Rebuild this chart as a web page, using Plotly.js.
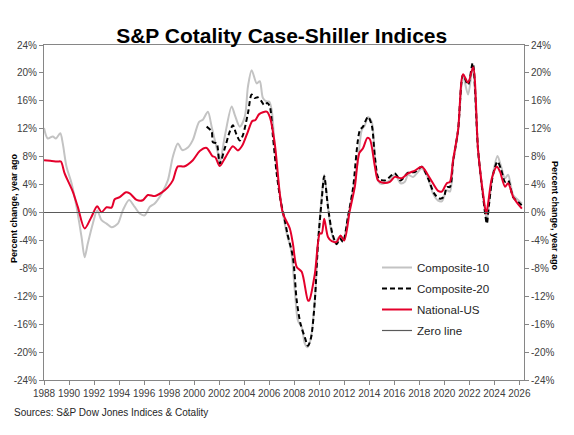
<!DOCTYPE html>
<html>
<head>
<meta charset="utf-8">
<script src="https://cdn.plot.ly/plotly-3.0.1.min.js"></script>
<style>html,body{margin:0;padding:0;background:#fff;}#chart{width:574px;height:435px;}</style>
</head>
<body>
<div id="chart"></div>
<script>
// ---- data (year, percent change year ago) ----
const c10Years = [1988.0,1988.3,1988.7,1988.95,1989.3,1989.5,1989.8,1990.2,1990.6,1991.0,1991.25,1991.5,1991.9,1992.25,1992.6,1993.0,1993.4,1993.9,1994.3,1994.8,1995.25,1995.65,1996.05,1996.45,1996.85,1997.4,1997.9,1998.3,1998.7,1999.05,1999.5,1999.9,2000.4,2000.7,2001.1,2001.4,2001.65,2001.9,2002.05,2002.45,2003.0,2003.25,2003.65,2004.05,2004.3,2004.6,2005.0,2005.25,2005.5,2005.8,2006.0,2006.2,2006.45,2006.8,2007.1,2007.4,2007.75,2008.05,2008.3,2008.6,2008.85,2009.05,2009.3,2009.65,2009.9,2010.1,2010.4,2010.65,2010.9,2011.25,2011.6,2011.9,2012.3,2012.65,2013.1,2013.4,2013.65,2013.9,2014.2,2014.45,2014.7,2014.95,2015.65,2016.05,2016.5,2016.85,2017.1,2017.5,2018.2,2018.7,2019.1,2019.5,2019.8,2020.2,2020.45,2020.7,2021.1,2021.5,2021.9,2022.27,2022.7,2023.1,2023.4,2023.55,2023.87,2024.25,2024.55,2024.85,2025.1,2025.5,2025.9,2026.2];
const c10Values = [12.1,10.6,10.9,10.6,11.35,9.9,6.55,4.2,0.8,-3.5,-6.4,-4.45,-1.6,0.3,-1.1,-1.6,-2.1,-1.6,0.3,1.8,0.8,-0.15,-0.4,0.8,1.3,2.7,4.6,8.0,9.9,8.95,9.3,10.4,13.0,13.3,14.45,12.3,10.4,8.5,7.0,10.9,15.2,14.0,12.3,13.7,18.0,20.4,18.5,18.8,16.4,15.9,15.9,14.7,9.4,3.2,-0.15,-3.0,-5.4,-11.2,-15.5,-16.4,-18.8,-19.3,-18.3,-12.6,-4.45,0.3,5.4,1.8,-2.1,-4.35,-3.5,-4.0,-0.6,2.7,7.5,11.8,12.5,13.7,13.0,8.0,4.6,4.1,4.6,5.5,4.2,4.4,5.4,5.1,6.3,4.9,2.7,1.7,1.6,3.2,3.0,7.0,11.6,19.5,16.9,20.7,8.9,2.25,-1.1,0.8,5.4,8.1,6.55,4.9,5.4,2.5,1.8,1.3];

const c20Years = [2001.0,2001.4,2001.5,2001.8,2002.05,2002.45,2002.85,2003.1,2003.35,2003.65,2003.9,2004.3,2004.6,2004.85,2005.1,2005.4,2005.6,2005.85,2006.05,2006.3,2006.6,2006.9,2007.25,2007.45,2007.9,2008.2,2008.5,2008.85,2009.1,2009.35,2009.65,2009.9,2010.2,2010.4,2010.7,2011.05,2011.4,2011.65,2011.9,2012.3,2012.7,2013.25,2013.5,2013.9,2014.2,2014.45,2014.75,2015.25,2016.05,2016.5,2017.1,2017.65,2018.2,2018.7,2019.2,2019.6,2019.95,2020.2,2020.45,2020.7,2021.1,2021.5,2021.9,2022.27,2022.7,2023.1,2023.4,2023.55,2023.87,2024.25,2024.55,2024.85,2025.1,2025.5,2025.9,2026.2];
const c20Values = [12.3,11.6,10.1,9.9,7.0,9.2,11.6,12.5,11.35,10.3,11.1,14.2,16.9,16.4,16.5,15.9,15.4,15.7,15.2,10.9,5.6,1.8,-1.1,-3.0,-6.4,-12.6,-15.9,-17.9,-19.1,-17.9,-12.6,-4.45,1.8,5.2,0.8,-3.0,-4.55,-3.7,-4.2,-0.6,3.45,11.8,12.3,13.7,12.5,8.0,4.9,4.6,5.6,4.6,5.7,5.8,6.55,4.9,2.7,2.0,2.2,3.65,3.65,7.3,11.8,19.7,18.3,21.4,8.9,2.3,-1.6,0.8,5.2,7.3,6.1,4.4,4.6,2.2,1.5,1.0];

const natYears = [1988.0,1988.5,1989.1,1989.35,1989.65,1990.3,1990.7,1991.25,1991.8,1992.25,1992.6,1993.0,1993.4,1993.65,1994.05,1994.55,1994.85,1995.4,1995.9,1996.3,1996.85,1997.4,1997.9,1998.3,1998.7,1999.2,1999.9,2000.45,2001.0,2001.45,2001.7,2002.05,2002.5,2003.1,2003.5,2003.85,2004.3,2004.65,2004.9,2005.2,2005.8,2006.05,2006.45,2006.85,2007.1,2007.65,2007.9,2008.2,2008.6,2009.1,2009.2,2009.65,2010.05,2010.2,2010.4,2010.7,2011.0,2011.4,2011.7,2012.0,2012.45,2012.85,2013.2,2013.5,2013.85,2014.05,2014.45,2014.7,2015.1,2015.65,2016.05,2016.6,2017.1,2017.65,2018.2,2018.85,2019.5,2019.8,2020.2,2020.45,2020.7,2021.1,2021.5,2021.9,2022.3,2022.7,2023.1,2023.35,2023.5,2023.8,2024.2,2024.45,2024.85,2025.1,2025.5,2025.9,2026.2];
const natValues = [7.5,7.4,7.3,7.3,5.6,3.0,0.8,-2.3,-0.6,0.9,0.05,0.75,0.7,1.9,2.2,2.9,2.75,1.8,1.75,2.5,2.35,2.85,3.6,4.6,6.6,6.6,7.5,8.8,9.25,8.1,7.9,6.65,7.9,9.5,8.9,9.6,11.6,13.1,13.25,14.1,14.45,13.7,9.8,2.7,-0.15,-2.3,-4.5,-7.8,-8.5,-12.6,-12.6,-8.8,-3.0,-3.0,-0.9,-3.5,-4.1,-4.2,-3.3,-4.0,0.3,3.7,8.5,9.2,10.7,10.5,6.6,4.6,4.25,4.4,5.1,4.9,5.6,6.0,6.55,4.9,3.1,3.0,4.2,4.4,7.5,11.8,19.8,18.6,20.8,8.95,2.7,-0.15,1.3,4.9,6.55,5.85,3.7,4.2,2.25,1.2,0.55];

const zeroYears = [1988, 2026.37];
const zeroValues = [0, 0];

const seriesNames = ['Composite-10','Composite-20','National-US','Zero line'];
const yTickVals = [-24,-20,-16,-12,-8,-4,0,4,8,12,16,20,24];
const yTickText = ['-24%','-20%','-16%','-12%','-8%','-4%','0%','4%','8%','12%','16%','20%','24%'];
const xTickVals = [1988,1990,1992,1994,1996,1998,2000,2002,2004,2006,2008,2010,2012,2014,2016,2018,2020,2022,2024,2026];
const xTickText = xTickVals.map(String);

const FONT = 'Arial, "Liberation Sans", Helvetica, sans-serif';
const AXC = '#868686';

const traces = [
  {x: c10Years, y: c10Values, name: seriesNames[0], type: 'scatter', mode: 'lines',
   line: {color: '#C3C3C3', width: 2, shape: 'spline', smoothing: 0.8}, legendgroup: 'a'},
  {x: c20Years, y: c20Values, name: seriesNames[1], type: 'scatter', mode: 'lines',
   line: {color: '#000000', width: 2, dash: '5px,3px', shape: 'spline', smoothing: 0.8}, legendgroup: 'b'},
  {x: natYears, y: natValues, name: seriesNames[2], type: 'scatter', mode: 'lines',
   line: {color: '#E4002B', width: 2, shape: 'spline', smoothing: 0.8}, legendgroup: 'c'},
  {x: zeroYears, y: zeroValues, name: seriesNames[3], type: 'scatter', mode: 'lines', yaxis: 'y2',
   line: {color: '#5a5a5a', width: 1.2}, legendgroup: 'd'}
];

const yCommon = {
  range: [-24, 24], tickmode: 'array', tickvals: yTickVals, ticktext: yTickText,
  showgrid: false, zeroline: false, showline: true, linecolor: AXC, linewidth: 1,
  ticks: 'outside', ticklen: 4, tickcolor: AXC, tickfont: {family: FONT, size: 10, color: '#404040'},
  fixedrange: true
};

const layout = {
  width: 574, height: 435,
  margin: {l: 44, r: 50, t: 45, b: 55},
  paper_bgcolor: '#fff', plot_bgcolor: '#fff',
  font: {family: FONT, color: '#262626'},
  title: {text: '<b>S&P Cotality Case-Shiller Indices</b>', font: {family: FONT, size: 21, color: '#000'},
          x: 281.7/574, xref: 'container', xanchor: 'center', y: 1 - 36/435, yref: 'container', yanchor: 'middle'},
  xaxis: {range: [1988, 2026.37], tickmode: 'array', tickvals: xTickVals, ticktext: xTickText,
          showgrid: false, zeroline: false, showline: true, mirror: true, linecolor: AXC, linewidth: 1,
          ticks: 'outside', ticklen: 4, tickcolor: AXC, tickfont: {family: FONT, size: 10, color: '#404040'}},
  yaxis: Object.assign({}, yCommon, {side: 'left'}),
  yaxis2: Object.assign({}, yCommon, {side: 'right', overlaying: 'y'}),
  showlegend: true,
  legend: {x: (377-44)/480, xanchor: 'left', y: (380-253)/335, yanchor: 'top',
           font: {family: FONT, size: 11.6, color: '#262626'}, bgcolor: 'rgba(0,0,0,0)',
           tracegroupgap: 2, itemwidth: 30},
  annotations: [
    {text: '<b>Percent change, year ago</b>', xref: 'paper', yref: 'paper', x: -(44-14)/480, y: (380-208)/335,
     xanchor: 'center', yanchor: 'middle', textangle: -90, showarrow: false, font: {family: FONT, size: 9, color: '#000'}},
    {text: '<b>Percent change, year ago</b>', xref: 'paper', yref: 'paper', x: 1 + (555-524)/480, y: (380-216)/335,
     xanchor: 'center', yanchor: 'middle', textangle: 90, showarrow: false, font: {family: FONT, size: 9, color: '#000'}},
    {text: 'Sources: S&P Dow Jones Indices & Cotality', xref: 'paper', yref: 'paper', x: -(44-11.5)/480, y: -(412-380)/335,
     xanchor: 'left', yanchor: 'middle', showarrow: false, font: {family: FONT, size: 10, color: '#262626'}}
  ]
};

Plotly.newPlot('chart', traces, layout, {staticPlot: true, displayModeBar: false});
</script>
</body>
</html>
